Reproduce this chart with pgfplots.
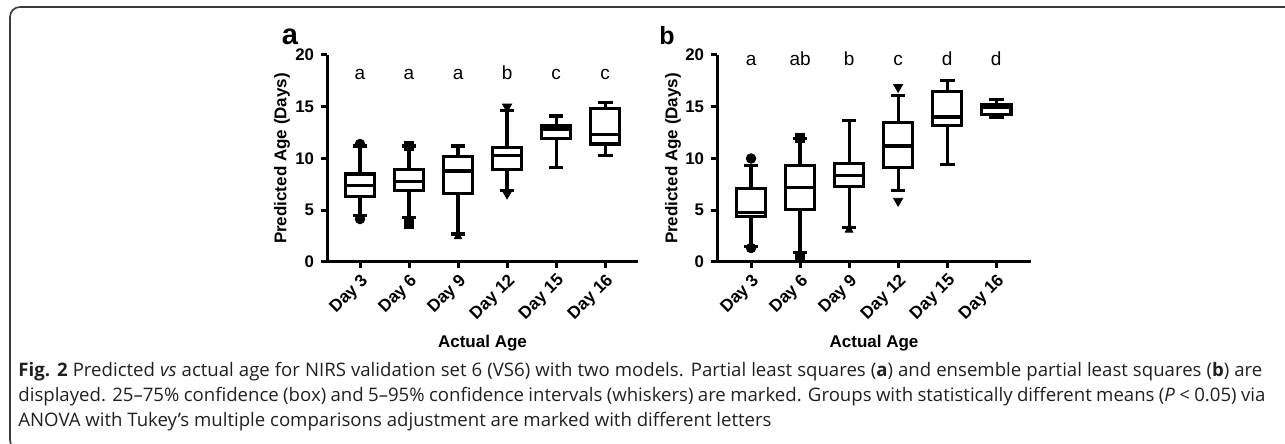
\documentclass[border=0pt]{standalone}
\usepackage{pgfplots}
\pgfplotsset{compat=1.18}
\usepgfplotslibrary{statistics}
\usepackage{fontspec}
\setmainfont{Liberation Sans}
\newfontfamily\capfont{Open Sans}
\definecolor{captxt}{HTML}{231F20}
\definecolor{framec}{HTML}{3A3A3A}

\tikzset{lt/.style={font=\fontsize{9.5}{11}\selectfont, anchor=base}}
\pgfplotsset{
  panel/.style={
    scale only axis,
    height=103.5pt,
    ymin=0, ymax=20,
    ytick={0,5,10,15,20},
    xtick={1,2,3,4,5,6},
    xticklabels={Day 3,Day 6,Day 9,Day 12,Day 15,Day 16},
    axis x line*=bottom, axis y line*=left,
    axis line style={line width=1.5pt, black},
    tick style={line width=1.5pt, black},
    tick align=outside,
    major tick length=3pt,
    /pgf/number format/assume math mode=true,
    yticklabel style={font=\bfseries\fontsize{8.4}{10}\selectfont},
    xticklabel style={font=\bfseries\fontsize{8.6}{10}\selectfont, rotate=45, anchor=north east, inner sep=1.5pt},
    xlabel={Actual Age},
    ylabel={Predicted Age (Days)},
    label style={font=\bfseries\fontsize{8.5}{10}\selectfont},
    xlabel style={at={(axis description cs:0.5,0)}, anchor=center, yshift=-40.5pt},
    boxplot/draw direction=y,
    boxplot/box extend=0.6,
    boxplot/whisker extend=0.3,
    clip=false,
  },
  bx/.style={black, line width=1.6pt, fill=white, solid},
}

\begin{document}
\begin{tikzpicture}
\begin{scope}[x=0.5pt,y=0.5pt]
  \draw[framec, line width=0.8pt, rounded corners=5pt] (1320,437) -- (10,437) -- (10,-6) -- (1320,-6);
  \node[anchor=base, font=\bfseries\fontsize{14.5}{16}\selectfont, inner sep=0] at (290,399) {a};
  \node[anchor=base, font=\bfseries\fontsize{12.5}{14}\selectfont, inner sep=0] at (667,399) {b};
  \begin{scope}[every node/.style={anchor=base west, inner sep=0, text=captxt, font=\capfont\fontsize{9.3}{11}\selectfont}]
    \node at (18,67) {\makebox[622pt][s]{\textbf{Fig. 2} Predicted \textit{vs} actual age for NIRS validation set 6 (VS6) with two models. Partial least squares (\textbf{a}) and ensemble partial least squares (\textbf{b}) are}};
    \node at (18,42) {\makebox[623.5pt][s]{displayed. 25–75\% confidence (box) and 5–95\% confidence intervals (whiskers) are marked. Groups with statistically different means (\textit{P} < 0.05) via}};
    \node at (18,17) {ANOVA with Tukey’s multiple comparisons adjustment are marked with different letters};
  \end{scope}
\end{scope}

% Panel a
\begin{axis}[panel, width=155.5pt, at={(163.5pt,91pt)}, anchor=south west,
  xmin=0.327, xmax=6.67,
  ylabel style={at={(axis description cs:-0.145,0.5)}, anchor=center}]
\addplot[bx, boxplot prepared={draw position=1, lower whisker=4.5, lower quartile=6.3, median=7.4, upper quartile=8.5, upper whisker=11.2}] coordinates {};
\addplot[bx, boxplot prepared={draw position=2, lower whisker=4.3, lower quartile=6.9, median=7.8, upper quartile=8.9, upper whisker=11.2}] coordinates {};
\addplot[bx, boxplot prepared={draw position=3, lower whisker=2.7, lower quartile=6.6, median=8.8, upper quartile=10.2, upper whisker=11.2}] coordinates {};
\addplot[bx, boxplot prepared={draw position=4, lower whisker=6.9, lower quartile=8.9, median=10.3, upper quartile=11.1, upper whisker=14.6}] coordinates {};
\addplot[bx, boxplot prepared={draw position=5, lower whisker=9.1, lower quartile=11.95, median=12.85, upper quartile=13.2, upper whisker=14.1}] coordinates {};
\addplot[bx, boxplot prepared={draw position=6, lower whisker=10.3, lower quartile=11.4, median=12.3, upper quartile=14.85, upper whisker=15.4}] coordinates {};
\addplot[only marks, black, mark=*, mark size=2.4pt] coordinates {(1,11.4) (1,4.15)};
\addplot[only marks, black, mark=square*, mark size=2.3pt] coordinates {(2,11.25) (2,3.67)};
\addplot[only marks, black, mark=triangle*, mark size=2.2pt] coordinates {(3,2.45)};
\addplot[only marks, black, mark=triangle*, mark size=2.6pt, mark options={rotate=180}] coordinates {(4,15.0) (4,6.6)};
\node[lt] at (axis cs:1,17.6) {a};
\node[lt] at (axis cs:2,17.6) {a};
\node[lt] at (axis cs:3,17.6) {a};
\node[lt] at (axis cs:4,17.6) {b};
\node[lt] at (axis cs:5,17.6) {c};
\node[lt] at (axis cs:6,17.6) {c};
\end{axis}

% Panel b
\begin{axis}[panel, width=157pt, at={(358.5pt,91pt)}, anchor=south west,
  xmin=0.306, xmax=6.71,
  ylabel style={at={(axis description cs:-0.140,0.5)}, anchor=center}]
\addplot[bx, boxplot prepared={draw position=1, lower whisker=1.5, lower quartile=4.4, median=4.75, upper quartile=7.1, upper whisker=9.3}] coordinates {};
\addplot[bx, boxplot prepared={draw position=2, lower whisker=0.95, lower quartile=5.1, median=7.2, upper quartile=9.3, upper whisker=11.9}] coordinates {};
\addplot[bx, boxplot prepared={draw position=3, lower whisker=3.3, lower quartile=7.3, median=8.35, upper quartile=9.5, upper whisker=13.65}] coordinates {};
\addplot[bx, boxplot prepared={draw position=4, lower whisker=6.9, lower quartile=9.15, median=11.2, upper quartile=13.5, upper whisker=16.1}] coordinates {};
\addplot[bx, boxplot prepared={draw position=5, lower whisker=9.4, lower quartile=13.2, median=14.0, upper quartile=16.45, upper whisker=17.5}] coordinates {};
\addplot[bx, boxplot prepared={draw position=6, lower whisker=14.0, lower quartile=14.25, median=14.9, upper quartile=15.25, upper whisker=15.7}] coordinates {};
\addplot[only marks, black, mark=*, mark size=2.4pt] coordinates {(1,10.0) (1,1.35)};
\addplot[only marks, black, mark=square*, mark size=2.3pt] coordinates {(2,12.0) (2,0.5)};
\addplot[only marks, black, mark=triangle*, mark size=2.2pt] coordinates {(3,3.1)};
\addplot[only marks, black, mark=triangle*, mark size=2.6pt, mark options={rotate=180}] coordinates {(4,16.9) (4,5.9)};
\node[lt] at (axis cs:1,19.0) {a};
\node[lt] at (axis cs:2,19.0) {ab};
\node[lt] at (axis cs:3,19.0) {b};
\node[lt] at (axis cs:4,19.0) {c};
\node[lt] at (axis cs:5,19.0) {d};
\node[lt] at (axis cs:6,19.0) {d};
\end{axis}
\pgfresetboundingbox
\path[use as bounding box] (0,0) rectangle (642.5pt,222pt);
\end{tikzpicture}
\end{document}
